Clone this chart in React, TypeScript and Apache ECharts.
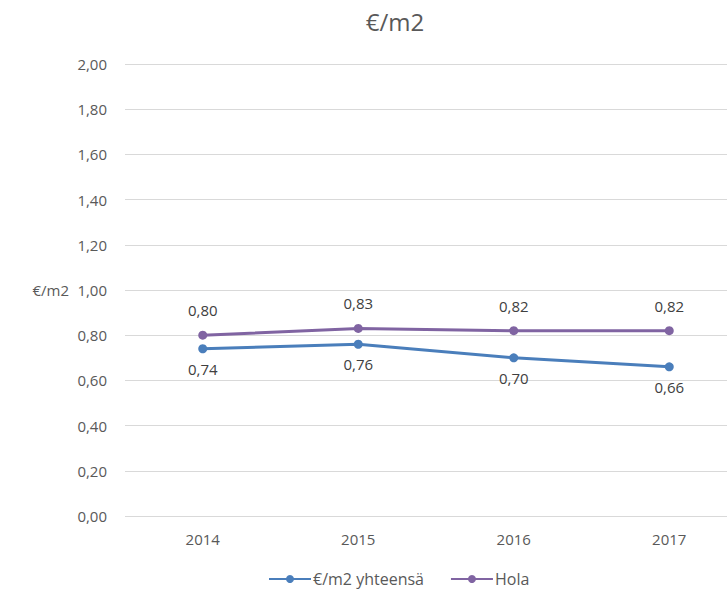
import React, { useEffect, useRef } from "react";
import * as echarts from "echarts";

const years = ["2014", "2015", "2016", "2017"];
const totalValues = [0.74, 0.76, 0.7, 0.66];
const holaValues = [0.8, 0.83, 0.82, 0.82];
const seriesNames = ["€/m2 yhteensä", "Hola"];

const fmt = (v: number) => v.toFixed(2).replace(".", ",");

export default function App() {
  const ref = useRef<HTMLDivElement>(null);
  useEffect(() => {
    const chart = echarts.init(ref.current!, undefined, { renderer: "svg" });
    const font = "'Open Sans', 'Liberation Sans', sans-serif";
    chart.setOption({
      animation: false,
      textStyle: { fontFamily: font, color: "#595959" },
      title: {
        text: "€/m2",
        left: 390,
        top: 4,
        textAlign: "center",
        textStyle: { fontFamily: font, fontSize: 24, fontWeight: "normal", color: "#595959" },
      },
      legend: {
        bottom: 0,
        left: 263,
        itemWidth: 42,
        itemHeight: 10,
        itemGap: 26,
        textStyle: { fontFamily: font, fontSize: 16, color: "#595959", padding: [0, 0, 0, -3] },
        data: seriesNames,
      },
      grid: { left: 125, width: 622, top: 64, bottom: 76, outerBoundsMode: "none" },
      xAxis: {
        type: "category",
        data: years,
        boundaryGap: true,
        axisLine: { show: false },
        axisTick: { show: false },
        axisLabel: { fontFamily: font, fontSize: 15, color: "#595959", margin: 15 },
      },
      yAxis: {
        type: "value",
        min: 0,
        max: 2,
        interval: 0.2,
        name: "€/m2",
        nameLocation: "middle",
        nameRotate: 0,
        nameGap: 56,
        nameTextStyle: { fontFamily: font, fontSize: 15, color: "#595959", align: "right" },
        axisLabel: { fontFamily: font, fontSize: 15, color: "#595959", margin: 18, formatter: (v: number) => fmt(v) },
        axisLine: { show: false },
        axisTick: { show: false },
        splitLine: { lineStyle: { color: "#d9d9d9" } },
      },
      series: [
        {
          name: seriesNames[0],
          type: "line",
          data: totalValues,
          symbol: "circle",
          symbolSize: 9,
          itemStyle: { color: "#4a7ebb" },
          lineStyle: { width: 3, color: "#4a7ebb" },
          label: {
            show: true,
            position: "bottom",
            distance: 8,
            fontFamily: font,
            fontSize: 15,
            color: "#404040",
            formatter: (p: any) => fmt(p.value),
          },
        },
        {
          name: seriesNames[1],
          type: "line",
          data: holaValues,
          symbol: "circle",
          symbolSize: 9,
          itemStyle: { color: "#8064a2" },
          lineStyle: { width: 3, color: "#8064a2" },
          label: {
            show: true,
            position: "top",
            distance: 13,
            fontFamily: font,
            fontSize: 15,
            color: "#404040",
            formatter: (p: any) => fmt(p.value),
          },
        },
      ],
    });
    return () => chart.dispose();
  }, []);
  return <div ref={ref} style={{ position: "absolute", left: 0, top: 0, width: 727, height: 592 }} />;
}
